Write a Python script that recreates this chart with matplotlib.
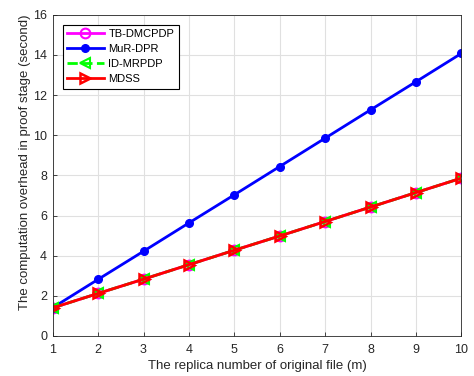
import matplotlib
matplotlib.use("Agg")
import matplotlib.pyplot as plt

plt.rcParams['font.family'] = ['Liberation Sans', 'DejaVu Sans']

m = [1, 2, 3, 4, 5, 6, 7, 8, 9, 10]
tb_dmcpdp = [1.40, 2.12, 2.83, 3.55, 4.27, 4.98, 5.70, 6.42, 7.14, 7.86]
mur_dpr = [1.41, 2.82, 4.22, 5.63, 7.03, 8.44, 9.85, 11.26, 12.66, 14.07]
id_mrpdp = [1.40, 2.12, 2.83, 3.55, 4.27, 4.98, 5.70, 6.42, 7.14, 7.86]
mdss = [1.40, 2.12, 2.83, 3.55, 4.27, 4.98, 5.70, 6.42, 7.14, 7.86]

W, H = 474, 376
fig = plt.figure(figsize=(W / 100, H / 100), dpi=100)
x0, x1, ytop, ybot = 52.7, 461.3, 14.7, 336.0
ax = fig.add_axes([x0 / W, (H - ybot) / H, (x1 - x0) / W, (ybot - ytop) / H])

ax.plot(m, tb_dmcpdp, color='#ff00ff', lw=2, marker='o', ms=7, mfc='none', mew=1.5, label='TB-DMCPDP')
ax.plot(m, mur_dpr, color='#0000ff', lw=2, marker='o', ms=5.5, label='MuR-DPR')
ax.plot(m, id_mrpdp, color='#00ff00', lw=2, ls='--', marker='<', ms=7.5, mfc='none', mew=1.5, label='ID-MRPDP')
ax.plot(m, mdss, color='#ff0000', lw=2, marker='>', ms=7.5, mfc='none', mew=1.8, label='MDSS')

ax.set_xlim(1, 10)
ax.set_ylim(0, 16)
ax.set_xticks(m)
ax.set_yticks(range(0, 17, 2))
ax.grid(True, color='#e0e0e0', lw=0.8)
ax.set_axisbelow(True)
ax.tick_params(direction='in', labelsize=9, length=3, width=0.6, top=False, right=False,
               colors='#262626', labelcolor='#262626')
ax.tick_params(axis='x', pad=6)
ax.tick_params(axis='y', pad=4)
for s in ax.spines.values():
    s.set_color('#262626')
    s.set_linewidth(0.6)
ax.set_xlabel('The replica number of original file (m)', fontsize=9.5, labelpad=3, color='#262626')
ax.set_ylabel('The computation overhead in proof stage (second)', fontsize=9.5, color='#262626')
ax.yaxis.set_label_coords((31.5 - x0) / (x1 - x0), (ybot - 162.5) / (ybot - ytop))

lx = (62.7 - x0) / (x1 - x0)
ly = (ybot - 24.7) / (ybot - ytop)
leg = ax.legend(loc='upper left', bbox_to_anchor=(lx, ly), fontsize=8, fancybox=False,
                framealpha=1, edgecolor='black', borderaxespad=0, borderpad=0.4,
                handlelength=3.3, handletextpad=0.4, labelspacing=0.45)
leg.get_frame().set_linewidth(0.8)

fig.savefig('out.png', dpi=100)
